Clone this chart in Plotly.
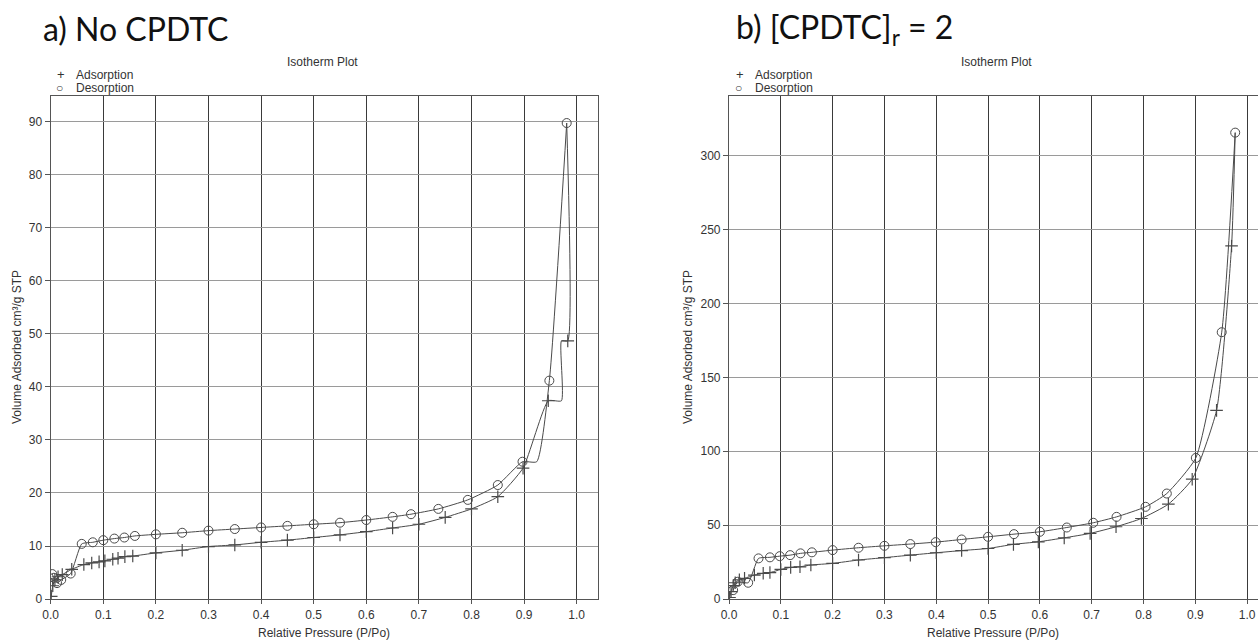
import plotly.graph_objects as go

# ---------------- data: a) No CPDTC ----------------
ads_a_x = [0.001, 0.004, 0.008, 0.014, 0.022, 0.040, 0.063, 0.078, 0.092, 0.103, 0.118, 0.128,
           0.141, 0.156, 0.200, 0.250, 0.300, 0.350, 0.400, 0.450, 0.500, 0.550, 0.600, 0.650,
           0.700, 0.750, 0.800, 0.850, 0.898, 0.946, 0.983]
ads_a_y = [0.5, 2.5, 3.6, 4.2, 4.6, 5.6, 6.5, 6.8, 7.0, 7.2, 7.5, 7.7,
           8.0, 8.1, 8.7, 9.2, 9.9, 10.2, 10.7, 11.1, 11.6, 12.1, 12.7, 13.4,
           14.1, 15.4, 17.0, 19.3, 24.7, 37.4, 48.7]
ads_a_step_x = [0.971, 0.971]          # plateau drawn by the instrument before the last point
ads_a_step_y = [37.4, 48.7]

des_a_x = [0.981, 0.948, 0.897, 0.850, 0.793, 0.737, 0.685, 0.650, 0.600, 0.550, 0.500, 0.450,
           0.400, 0.350, 0.300, 0.250, 0.200, 0.160, 0.140, 0.121, 0.100, 0.080, 0.059, 0.038,
           0.020, 0.012, 0.006, 0.003]
des_a_y = [89.8, 41.2, 25.9, 21.5, 18.7, 17.0, 16.0, 15.5, 14.9, 14.4, 14.1, 13.8,
           13.5, 13.2, 12.9, 12.5, 12.2, 11.9, 11.6, 11.4, 11.1, 10.7, 10.4, 4.8,
           3.6, 3.0, 4.0, 4.7]
des_a_step_x = [0.924]
des_a_step_y = [25.9]

# ---------------- data: b) [CPDTC]r = 2 ----------------
ads_b_x = [0.001, 0.004, 0.008, 0.012, 0.020, 0.030, 0.049, 0.066, 0.079, 0.100, 0.119, 0.137,
           0.158, 0.200, 0.250, 0.300, 0.350, 0.400, 0.449, 0.500, 0.549, 0.597, 0.647, 0.697,
           0.747, 0.796, 0.848, 0.894, 0.941, 0.970]
ads_b_y = [1.0, 5.0, 9.0, 11.0, 13.0, 14.0, 16.2, 17.4, 17.9, 20.0, 21.4, 21.8,
           23.0, 24.1, 26.4, 28.0, 29.7, 31.3, 32.8, 34.2, 37.0, 38.7, 41.4, 44.4,
           48.9, 54.5, 64.2, 81.1, 127.7, 239.0]

des_b_x = [0.977, 0.951, 0.901, 0.845, 0.804, 0.748, 0.703, 0.652, 0.600, 0.550, 0.500, 0.449,
           0.399, 0.350, 0.300, 0.250, 0.200, 0.160, 0.138, 0.118, 0.098, 0.079, 0.057, 0.037,
           0.017, 0.008]
des_b_y = [315.7, 180.6, 95.5, 71.4, 62.4, 55.6, 51.6, 48.4, 45.5, 43.9, 42.1, 40.3,
           38.5, 37.2, 36.0, 34.7, 33.1, 31.6, 30.9, 29.7, 29.0, 28.2, 27.5, 11.0,
           11.7, 6.0]

x_ticks = [0.0, 0.1, 0.2, 0.3, 0.4, 0.5, 0.6, 0.7, 0.8, 0.9, 1.0]

LINE = "#4a4a4a"
FONT = "Liberation Sans, Arial, sans-serif"

fig = go.Figure()

def add_panel(xa, ya, ax, ay, dx, dy, ax_step=None, ay_step=None, dx_step=None, dy_step=None, step_at=None):
    xr = "x" if xa == 1 else "x%d" % xa
    yr = "y" if ya == 1 else "y%d" % ya
    # adsorption curve
    if ax_step:
        lx = ax[:-1] + ax_step + ax[-1:] + [dx[0]]
        ly = ay[:-1] + ay_step + ay[-1:] + [dy[0]]
    else:
        lx = ax + [dx[0]]
        ly = ay + [dy[0]]
    fig.add_trace(go.Scatter(x=lx, y=ly, mode="lines", xaxis=xr, yaxis=yr,
                             line=dict(color=LINE, width=1, shape="spline", smoothing=0.5),
                             showlegend=False, hoverinfo="skip"))
    # desorption curve
    if dx_step:
        lx = dx[:step_at] + dx_step + dx[step_at:]
        ly = dy[:step_at] + dy_step + dy[step_at:]
    else:
        lx, ly = dx, dy
    fig.add_trace(go.Scatter(x=lx, y=ly, mode="lines", xaxis=xr, yaxis=yr,
                             line=dict(color=LINE, width=1, shape="spline", smoothing=0.5),
                             showlegend=False, hoverinfo="skip"))
    fig.add_trace(go.Scatter(x=ax, y=ay, mode="markers", xaxis=xr, yaxis=yr, name="Adsorption",
                             marker=dict(symbol="cross-thin-open", size=9, color=LINE,
                                         line=dict(color=LINE, width=1.2)),
                             showlegend=False))
    fig.add_trace(go.Scatter(x=dx, y=dy, mode="markers", xaxis=xr, yaxis=yr, name="Desorption",
                             marker=dict(symbol="circle-open", size=9, color=LINE,
                                         line=dict(color=LINE, width=1)),
                             showlegend=False))

add_panel(1, 1, ads_a_x, ads_a_y, des_a_x, des_a_y,
          ads_a_step_x, ads_a_step_y, des_a_step_x, des_a_step_y, step_at=2)
add_panel(2, 2, ads_b_x, ads_b_y, des_b_x, des_b_y)

W, H = 1258, 641
def px(x): return x / W
def py(y): return 1 - y / H

xcommon = dict(tickvals=x_ticks, ticktext=["%.1f" % v for v in x_ticks],
               showgrid=True, gridcolor="#3a3a3a", gridwidth=1.3,
               showline=True, mirror=True, linecolor="#555", linewidth=1.2,
               ticks="outside", ticklen=4, tickcolor="#555", automargin=False,
               ticklabeloverflow="allow",
               tickfont=dict(family=FONT, size=12, color="#333"), zeroline=False)
ycommon = dict(showgrid=True, gridcolor="#9a9a9a", gridwidth=1,
               showline=True, mirror=True, linecolor="#555", linewidth=1.2,
               ticks="outside", ticklen=5, tickcolor="#555", automargin=False,
               tickfont=dict(family=FONT, size=12, color="#333"), zeroline=False)

fig.update_layout(
    width=W, height=H, margin=dict(l=0, r=0, t=0, b=0, pad=0, autoexpand=False),
    paper_bgcolor="white", plot_bgcolor="white", showlegend=False,
    xaxis=dict(domain=[px(50.7), px(598)], range=[0, 1.0405], anchor="y", **xcommon),
    yaxis=dict(domain=[py(599), py(96)], range=[0, 94.9], dtick=10, tick0=0, anchor="x", **ycommon),
    xaxis2=dict(domain=[px(729), 1.0], range=[0, 1.021], anchor="y2", **xcommon),
    yaxis2=dict(domain=[py(599), py(96)], range=[0, 340.5], dtick=50, tick0=0, anchor="x2", **ycommon),
)

ann = []
def text(x, y, s, size=12, family=FONT, xanchor="center", angle=0, color="#333"):
    ann.append(dict(x=px(x), y=py(y), xref="paper", yref="paper", text=s, showarrow=False,
                    xanchor=xanchor, yanchor="middle", textangle=angle,
                    font=dict(family=family, size=size, color=color)))

BIG = "Lato, Open Sans, sans-serif"
text(41, 29, "a) No CPDTC", size=32, family=BIG, xanchor="left", color="#111")
text(734, 29, "b) [CPDTC]<sub>r</sub> = 2", size=32, family=BIG, xanchor="left", color="#111")

for x0, cx in [(0, 322), (679, 997)]:
    text(cx, 62, "Isotherm Plot", size=12)
    text(x0 + 55, 75, "+", size=13, xanchor="left")
    text(x0 + 74, 75, "Adsorption", size=12, xanchor="left")
    text(x0 + 54, 88, "○", size=12, xanchor="left")
    text(x0 + 74, 88, "Desorption", size=12, xanchor="left")

text(324, 633, "Relative Pressure (P/Po)", size=12)
text(993, 633, "Relative Pressure (P/Po)", size=12)
text(17, 347, "Volume Adsorbed cm³/g STP", size=12, angle=-90)
text(688, 347, "Volume Adsorbed cm³/g STP", size=12, angle=-90)

fig.update_layout(annotations=ann)
# remove the page's default body margin so the 1258x641 figure fills the window exactly
fig.write_html("out.html", config={"displayModeBar": False},
               post_script="document.body.style.margin='0';document.body.style.overflow='hidden';")
